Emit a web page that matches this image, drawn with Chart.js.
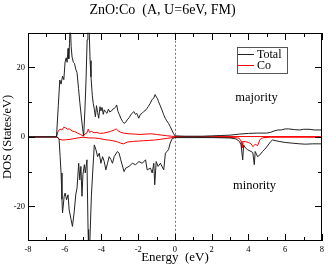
<!DOCTYPE html>
<html>
<head>
<meta charset="utf-8">
<script src="https://cdn.jsdelivr.net/npm/chart.js@4.4.1/dist/chart.umd.min.js"></script>
<style>
  html, body { margin: 0; padding: 0; background: #fff; }
  #wrap { width: 328px; height: 265px; }
</style>
</head>
<body>
<div id="wrap"><canvas id="myChart" width="328" height="265"></canvas></div>
<script>
// ZnO:Co DOS
const totalUpE = [-8, -6.45, -6.35, -6.27, -6.2, -6.12, -6.05, -5.98, -5.92, -5.87, -5.82, -5.78, -5.74, -5.7, -5.65, -5.6, -5.53, -5.47, -5.4, -5.33, -5.25, -5.18, -5.1, -5.03, -4.97, -4.9, -4.84, -4.78, -4.74, -4.68, -4.62, -4.57, -4.5, -4.45, -4.39, -4.33, -4.27, -4.21, -4.15, -4.08, -4.03, -3.97, -3.9, -3.85, -3.78, -3.7, -3.62, -3.55, -3.45, -3.38, -3.31, -3.24, -3.17, -3.1, -3.03, -2.95, -2.86, -2.77, -2.68, -2.6, -2.5, -2.41, -2.33, -2.24, -2.15, -2.08, -1.97, -1.88, -1.79, -1.68, -1.58, -1.52, -1.45, -1.34, -1.24, -1.16, -1.08, -1.01, -0.95, -0.89, -0.8, -0.71, -0.62, -0.53, -0.44, -0.35, -0.26, -0.17, -0.08, 0, 0.5, 1, 1.5, 2, 2.5, 3, 3.5, 4, 4.5, 5, 5.2, 5.4, 5.6, 5.8, 6, 6.2, 6.5, 6.8, 7, 7.3, 7.6, 8];
const totalUp = [0, 0, 9, 16.4, 15.2, 17.5, 16.5, 21.6, 22.8, 21.5, 25.5, 22.5, 27, 33, 26, 23, 21.5, 21.2, 19.5, 18.5, 14, 10, 6, 2.5, 0.2, 8, 16.4, 28, 34, 33, 22, 17.3, 12, 9.7, 8, 5.8, 9, 7, 5.4, 8.7, 7.5, 8.5, 6.5, 7.8, 7.2, 6.8, 8, 7.2, 7.5, 8, 8.2, 8.5, 9.2, 7.3, 6.5, 5.4, 4.5, 3.9, 4.2, 4.9, 5.5, 6.3, 6.8, 7.3, 6.5, 6.8, 5.4, 6.5, 6.8, 7.4, 7.8, 8.2, 8.8, 9.7, 10.8, 11.1, 12.2, 11.5, 11, 10.1, 9, 7.8, 6.5, 5.4, 4.6, 3.9, 3, 2, 1, 0.3, 0.2, 0.2, 0.2, 0.3, 0.4, 0.5, 0.8, 1, 1.1, 1.1, 1.3, 1.7, 2, 2, 2.3, 2.3, 2.1, 2, 2.2, 2.2, 2, 2];

const totalDnE = [-8, -6.42, -6.31, -6.25, -6.2, -6.15, -6.12, -6.03, -5.98, -5.9, -5.82, -5.76, -5.67, -5.58, -5.49, -5.4, -5.33, -5.24, -5.18, -5.12, -5.06, -5.01, -4.93, -4.88, -4.79, -4.73, -4.7, -4.65, -4.55, -4.48, -4.39, -4.3, -4.21, -4.12, -4.03, -3.94, -3.85, -3.76, -3.67, -3.58, -3.49, -3.4, -3.31, -3.13, -3.04, -2.95, -2.77, -2.68, -2.5, -2.32, -2.14, -1.96, -1.78, -1.6, -1.51, -1.33, -1.24, -1.15, -1.1, -1.02, -0.92, -0.79, -0.61, -0.52, -0.35, -0.26, -0.15, 0, 1, 2, 3, 3.33, 3.51, 3.6, 3.69, 3.74, 3.84, 3.96, 4.14, 4.24, 4.32, 4.37, 4.5, 4.62, 4.77, 4.95, 5.22, 5.31, 5.67, 6, 6.38, 6.8, 7.1, 7.5, 7.82, 8];
const totalDn = [0, 0, -0.5, -5.7, -10.4, -18, -21.9, -17.1, -16.2, -18.1, -16.7, -21, -23.4, -25.8, -21.9, -16.7, -14.7, -7.6, -12.4, -8.5, -17.1, -10.9, -8, -10.4, -6.6, -26.7, -33, -33, -17.1, -10.4, -2.3, -3.7, -5.7, -4.7, -7.6, -5.7, -7.1, -9.5, -7.6, -5.7, -6.5, -7.6, -5.7, -4.2, -4.7, -6.6, -10, -9, -8.5, -7.6, -8, -7.1, -7.6, -6.6, -9.5, -9, -10.4, -7.6, -13.8, -7.1, -8.5, -7.6, -9.5, -4.7, -3.7, -1.8, -0.5, -0.2, -0.2, -0.2, -0.3, -0.6, -1.3, -2.3, -6.6, -2.3, -3.2, -3.7, -4.2, -4.5, -8, -4.2, -5.7, -5.2, -4.2, -3.2, -1.3, -0.9, -1.3, -1.6, -1.8, -2, -2.1, -2, -2, -2];

const coUpE = [-8, -6.45, -6.35, -6.25, -6.15, -6.05, -5.95, -5.85, -5.75, -5.6, -5.45, -5.3, -5.15, -5, -4.9, -4.8, -4.72, -4.65, -4.55, -4.4, -4.25, -4.1, -3.9, -3.7, -3.5, -3.3, -3.2, -3.1, -2.95, -2.8, -2.5, -2.2, -1.9, -1.6, -1.3, -1, -0.7, -0.4, 0, 8];
const coUp = [0, 0, 1.8, 2.2, 2, 2.8, 2.6, 2.2, 2.3, 1.7, 1.5, 1.1, 0.7, 0.3, 0.8, 1.1, 2.2, 1.3, 1.6, 1.2, 1.3, 1, 1.1, 1.3, 1.6, 2, 2.3, 1.8, 1.3, 1.1, 0.9, 0.8, 0.7, 0.8, 0.9, 0.7, 0.5, 0.3, 0.1, 0.1];

const coDnE = [-8, -6.42, -6.3, -6.1, -5.9, -5.7, -5.5, -5.3, -5, -4.7, -4.4, -4.1, -3.8, -3.5, -3.2, -2.95, -2.8, -2.6, -2.3, -2, -1.7, -1.4, -1.1, -0.8, -0.4, 0, 3.3, 3.5, 3.6, 3.65, 3.72, 3.85, 4, 4.14, 4.25, 4.37, 4.5, 4.62, 4.7, 4.85, 5.2, 8];
const coDn = [0, 0, -0.7, -0.9, -0.8, -0.7, -0.5, -0.3, -0.1, -0.3, -0.3, -0.5, -0.8, -1, -1.3, -1.8, -2, -1.5, -1.3, -1.2, -1.1, -1, -0.9, -0.7, -0.4, -0.1, -0.2, -0.4, -1.2, -3.2, -1.3, -1.4, -1.6, -2, -2.8, -2.1, -2.5, -0.9, -0.4, -0.2, -0.1, -0.1];

const xMajor = [-8, -6, -4, -2, 0, 2, 4, 6, 8];
const xMinor = [-7, -5, -3, -1, 1, 3, 5, 7];
const yMajor = [-20, 0, 20];
const yMinor = [-10, 10];

const serif = "'Liberation Serif', 'DejaVu Serif', serif";

function pts(xs, ys) {
    return xs.map((e, i) => ({ x: e, y: ys[i] }));
}

// frame, inward ticks on all four sides, dashed Fermi line, legend and labels
const decor = {
    id: 'decor',
    beforeDatasetsDraw(chart) {
        const { ctx, chartArea: a, scales: { x } } = chart;
        const px = Math.round(x.getPixelForValue(0)) + 0.5;
        ctx.save();
        ctx.strokeStyle = '#777';
        ctx.lineWidth = 1;
        ctx.setLineDash([2, 2]);
        ctx.beginPath();
        ctx.moveTo(px, a.top);
        ctx.lineTo(px, a.bottom);
        ctx.stroke();
        ctx.restore();
    },
    afterDraw(chart) {
        const { ctx, chartArea: a } = chart;
        const xs = chart.scales.x, ys = chart.scales.y;
        ctx.save();
        ctx.setLineDash([]);
        ctx.strokeStyle = '#000';
        ctx.fillStyle = '#000';
        ctx.lineWidth = 1;
        const L = Math.round(a.left), R = Math.round(a.right) - 1;
        const T = Math.round(a.top), B = Math.round(a.bottom) - 1;
        ctx.strokeRect(L + 0.5, T + 0.5, R - L, B - T);

        xMajor.concat(xMinor).forEach(v => {
            const len = xMajor.includes(v) ? 7 : 4;
            const p = Math.round(xs.getPixelForValue(v));
            ctx.fillRect(p, B - len + 1, 1, len);
            ctx.fillRect(p, T, 1, len);
        });
        yMajor.concat(yMinor).forEach(v => {
            const len = yMajor.includes(v) ? 7 : 4;
            const p = Math.round(ys.getPixelForValue(v));
            ctx.fillRect(L, p, len, 1);
            ctx.fillRect(R - len + 1, p, len, 1);
        });

        // legend box
        ctx.strokeStyle = '#555';
        ctx.strokeRect(237.5, 47.5, 50, 26);
        ctx.strokeStyle = '#222';
        ctx.beginPath(); ctx.moveTo(238, 54.5); ctx.lineTo(254, 54.5); ctx.stroke();
        ctx.strokeStyle = '#ff0000';
        ctx.beginPath(); ctx.moveTo(238, 65.5); ctx.lineTo(254, 65.5); ctx.stroke();
        ctx.fillStyle = '#000';
        ctx.font = '12px ' + serif;
        ctx.textBaseline = 'middle';
        ctx.textAlign = 'left';
        ctx.fillText('Total', 257, 54.5);
        ctx.fillText('Co', 257, 66);

        ctx.font = '12.5px ' + serif;
        ctx.textAlign = 'center';
        ctx.fillText('majority', 256.5, 98);
        ctx.fillText('minority', 254.5, 186);
        ctx.restore();
    }
};

const ctx = document.getElementById('myChart');
const chart = new Chart(ctx, {
    type: 'scatter',
    data: {
        datasets: [
            { label: 'Total', data: pts(totalUpE, totalUp), borderColor: '#222', borderWidth: 1, showLine: true, pointRadius: 0, tension: 0 },
            { label: 'Total dn', data: pts(totalDnE, totalDn), borderColor: '#222', borderWidth: 1, showLine: true, pointRadius: 0, tension: 0 },
            { label: 'Co', data: pts(coUpE, coUp), borderColor: '#ff0000', borderWidth: 1, showLine: true, pointRadius: 0, tension: 0 },
            { label: 'Co dn', data: pts(coDnE, coDn), borderColor: '#ff0000', borderWidth: 1, showLine: true, pointRadius: 0, tension: 0 }
        ]
    },
    options: {
        responsive: false,
        animation: false,
        events: [],
        layout: { padding: { left: 0, right: 3, top: 0, bottom: 0 } },
        scales: {
            x: {
                type: 'linear', min: -8, max: 8,
                afterBuildTicks: s => { s.ticks = xMajor.map(v => ({ value: v })); },
                afterFit: s => { s.height = 24; },
                grid: { display: false, drawTicks: false },
                border: { display: false },
                ticks: { color: '#000', padding: 4, maxRotation: 0, font: { family: serif, size: 8.5 } },
                title: { display: true, text: 'Energy  (eV)', color: '#000', padding: 0, font: { family: serif, size: 13 } }
            },
            y: {
                type: 'linear', min: -30, max: 30,
                afterBuildTicks: s => { s.ticks = yMajor.map(v => ({ value: v })); },
                afterFit: s => { s.width = 28; },
                grid: { display: false, drawTicks: false },
                border: { display: false },
                ticks: { color: '#000', padding: 3, font: { family: serif, size: 8.5 } },
                title: { display: true, text: 'DOS (States/eV)', color: '#000', padding: 0, font: { family: serif, size: 12.5 } }
            }
        },
        plugins: {
            legend: { display: false },
            tooltip: { enabled: false },
            title: {
                display: true,
                text: 'ZnO:Co  (A, U=6eV, FM)',
                color: '#000',
                padding: { top: 2, bottom: 14 },
                font: { family: serif, size: 14, weight: 'normal' }
            }
        }
    },
    plugins: [decor]
});
</script>
</body>
</html>
